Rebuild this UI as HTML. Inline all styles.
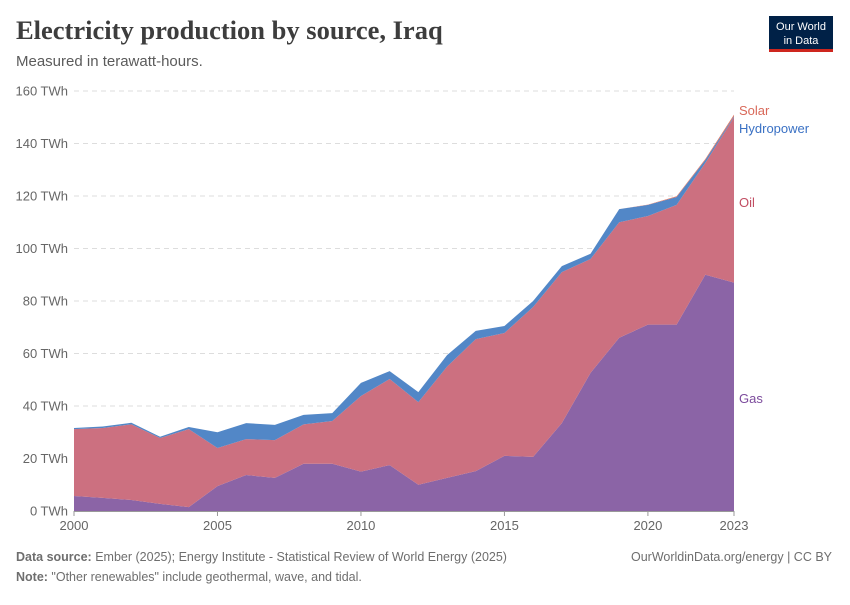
<!DOCTYPE html>
<html><head><meta charset="utf-8">
<style>
body{margin:0;width:850px;height:600px;background:#fff;font-family:"Liberation Sans",sans-serif;overflow:hidden}
svg text{font-family:"Liberation Sans",sans-serif}
</style></head>
<body>
<svg id="chart" width="850" height="600" xmlns="http://www.w3.org/2000/svg">
<text x="16" y="39" font-size="26.5" font-weight="bold" fill="#3d3d3d" style="font-family:'Liberation Serif',serif">Electricity production by source, Iraq</text>
<text x="16" y="66" font-size="15" fill="#5b5b5b">Measured in terawatt-hours.</text>
<g>
<rect x="769" y="16" width="64" height="34" fill="#002147"/>
<rect x="769" y="49" width="64" height="3" fill="#ce261e"/>
<text x="801" y="30" font-size="11" fill="#fff" text-anchor="middle">Our World</text>
<text x="801" y="44" font-size="11" fill="#fff" text-anchor="middle">in Data</text>
</g>
<g id="grid"></g>
<g id="areas"></g>
<g id="axes"></g>
<g id="labels"></g>
<text x="16" y="561" font-size="12.5" fill="#6e6e6e"><tspan font-weight="bold">Data source:</tspan> Ember (2025); Energy Institute - Statistical Review of World Energy (2025)</text>
<text x="832" y="561" font-size="12.5" fill="#6e6e6e" text-anchor="end">OurWorldinData.org/energy | CC BY</text>
<text x="16" y="581" font-size="12.5" fill="#6e6e6e"><tspan font-weight="bold">Note:</tspan> "Other renewables" include geothermal, wave, and tidal.</text>
</svg>
<script>
const years=[2000,2001,2002,2003,2004,2005,2006,2007,2008,2009,2010,2011,2012,2013,2014,2015,2016,2017,2018,2019,2020,2021,2022,2023];
const gas=[5.7,5,4.2,2.7,1.5,9.5,13.7,12.6,18,18,15,17.5,10,12.6,15.2,21,20.6,33.5,52.6,66,71,71,90,87];
const oil=[25.5,26.6,28.8,25.1,29.7,14.5,13.7,14.4,15,16.3,28.8,32.8,31.5,42.4,50.3,46.8,57.1,57.5,43.4,44,41.4,45.6,42.6,63];
const hydro=[0.4,0.6,0.6,0.5,0.8,6,6.1,5.8,3.6,3,5,3,3.8,4.4,3.1,2.7,2.3,2.3,2,5,4.2,3,1.1,0.4];
const solar=[0,0,0,0,0,0,0,0,0,0,0,0,0,0,0,0,0,0,0,0,0.1,0.3,0.4,0.6];
const yTicks=[0,20,40,60,80,100,120,140,160];
const xTicks=[2000,2005,2010,2015,2020,2023];
const NS="http://www.w3.org/2000/svg";
const X=y=>74+(y-2000)*(660/23);
const Y=v=>511-v*2.625;
function mk(tag,attrs,parent){const e=document.createElementNS(NS,tag);for(const k in attrs)e.setAttribute(k,attrs[k]);parent.appendChild(e);return e;}
const grid=document.getElementById('grid'),axes=document.getElementById('axes'),areas=document.getElementById('areas'),labels=document.getElementById('labels');
yTicks.forEach(t=>{
 if(t>0){const l=mk('line',{x1:74,x2:734,y1:Y(t),y2:Y(t),stroke:'#ddd','stroke-dasharray':'5,4'},grid);
 
 }
 const tx=mk('text',{x:68,y:Y(t)+4.5,'font-size':13,fill:'#666','text-anchor':'end'},axes);
 tx.textContent=t+' TWh';
 
 
});
const ax=mk('line',{x1:74,x2:734,y1:511.5,y2:511.5,stroke:'#999'},axes);


xTicks.forEach(t=>{
 mk('line',{x1:X(t),x2:X(t),y1:511,y2:516,stroke:'#999'},axes);
 const tx=mk('text',{x:X(t),y:530,'font-size':13,fill:'#666','text-anchor':'middle'},axes);
 tx.textContent=t;
 
 
});
const series=[['gas',gas,'#8b64a6'],['oil',oil,'#cc7080'],['hydropower',hydro,'#5287c7'],['solar',solar,'#e3745f']];
let base=years.map(()=>0);
series.forEach(([name,vals,col])=>{
 const top=base.map((b,i)=>b+vals[i]);
 let d='M'+years.map((y,i)=>X(y)+','+Y(top[i])).join('L');
 for(let i=years.length-1;i>=0;i--)d+='L'+X(years[i])+','+Y(base[i]);
 const p=mk('path',{d:d+'Z',fill:col},areas);
 
 
 base=top;
});
const lab=[['Solar',110,'#d9695a'],['Hydropower',128,'#3a71c4'],['Oil',202,'#c14d62'],['Gas',398,'#7c4b9c']];
lab.forEach(([t,y,c])=>{
 const tx=mk('text',{x:739,y:y+5,'font-size':13,fill:c},labels);
 tx.textContent=t;
 
 
});
</script>
</body></html>
